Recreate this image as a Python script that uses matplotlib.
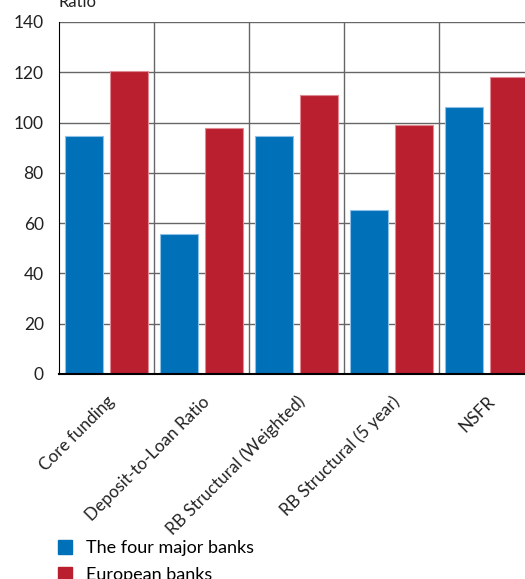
#funding ratios: four major banks vs european banks

import numpy as np
import matplotlib
matplotlib.use('Agg')
import matplotlib.pyplot as plt
from matplotlib.patches import Patch

categories = ['Core funding', 'Deposit-to-Loan Ratio', 'RB Structural (Weighted)',
              'RB Structural (5 year)', 'NSFR']
major_banks = [94.8, 55.7, 94.7, 65.1, 106.1]
european_banks = [120.5, 97.9, 111.0, 98.9, 118.1]
y_ticks = [0, 20, 40, 60, 80, 100, 120, 140]

blue = '#0070b8'
red = '#b91f2e'

def main():
    plt.rcParams['font.family'] = ['Lato', 'DejaVu Sans']
    fig = plt.figure(figsize=(5.25, 5.79), dpi=100)
    ax = fig.add_axes([59/525, 205/579, 466/525, 352/579])

    x = np.arange(len(categories))
    ax.bar(x - 0.24, major_banks, 0.4, color=blue, edgecolor='#8fc0e6', linewidth=0.8,
           zorder=3, label='The four major banks')
    ax.bar(x + 0.24, european_banks, 0.4, color=red, edgecolor='#e08a93', linewidth=0.8,
           zorder=3, label='European banks')

    ax.set_ylim(0, 140)
    ax.set_xlim(-0.5, 4.405)
    ax.set_yticks(y_ticks)
    ax.set_yticklabels([str(v) for v in y_ticks], fontsize=12.5, color='#222222')
    ax.tick_params(axis='y', length=0, pad=11)
    ax.tick_params(axis='x', length=0, pad=14)
    ax.set_xticks(x)
    ax.set_xticklabels(categories, rotation=45, ha='right', rotation_mode='anchor',
                       fontsize=12.3, color='#222222')

    # grid: horizontal at ticks, vertical at category boundaries
    for v in y_ticks[1:]:
        ax.axhline(v, color='#666666', lw=1, zorder=1)
    for b in np.arange(0.5, len(categories) - 0.5, 1):
        ax.axvline(b, color='#666666', lw=1, zorder=1)

    for s in ['top', 'right']:
        ax.spines[s].set_visible(False)
    ax.spines['left'].set_color('black')
    ax.spines['bottom'].set_color('black')
    ax.spines['bottom'].set_linewidth(1.5)
    ax.spines['bottom'].set_zorder(4)

    fig.text(59/525, 1 - 7/579, 'Ratio', fontsize=12, color='#222222', va='baseline')

    handles = [Patch(color=blue, label='The four major banks'),
               Patch(color=red, label='European banks')]
    fig.legend(handles=handles, loc='upper left', bbox_to_anchor=(42/525, 1 - 524/579),
               frameon=False, fontsize=13, handlelength=0.75, handleheight=0.75,
               handletextpad=0.8, labelspacing=0.6)

    fig.savefig('out.png', dpi=100)

if __name__ == '__main__':
    main()
